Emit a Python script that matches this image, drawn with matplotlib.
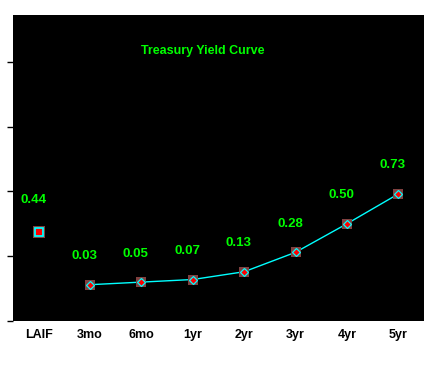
import matplotlib
matplotlib.use("Agg")
import matplotlib.pyplot as plt

categories = ["LAIF", "3mo", "6mo", "1yr", "2yr", "3yr", "4yr", "5yr"]
laif_value = 0.44
curve_labels = ["3mo", "6mo", "1yr", "2yr", "3yr", "4yr", "5yr"]
curve_values = [0.03, 0.05, 0.07, 0.13, 0.28, 0.50, 0.73]
title = "Treasury Yield Curve"

plt.rcParams['font.family'] = ['Liberation Sans', 'DejaVu Sans']

fig = plt.figure(figsize=(4.35, 3.78), dpi=100, facecolor='white')
ax = fig.add_axes([13/435, 1-321/378, 411/435, 306/378])
ax.set_facecolor('black')

xs = list(range(len(categories)))
cx = [categories.index(c) for c in curve_labels]

brown = '#80403f'
ax.plot(cx, curve_values, color='#00ffff', lw=1.0, zorder=2)
ax.plot(cx, curve_values, ls='none', marker='s', ms=7.5, mfc=brown, mec=brown, mew=0, zorder=3)
ax.plot(cx, curve_values, ls='none', marker='D', ms=4.2, mfc='#ff0000', mec='#00ffff', mew=0.9, zorder=4)

ax.plot([0], [laif_value], ls='none', marker='s', ms=8.6, mfc=brown, mec=brown, mew=0, zorder=3)
ax.plot([0], [laif_value], ls='none', marker='s', ms=6.2, mfc='#ff0000', mec='#00ffff', mew=1.3, zorder=4)

green = '#00ff00'
ax.annotate(f"{laif_value:.2f}", (0, laif_value), xytext=(-4, 23), textcoords='offset points',
            ha='center', va='center', color=green, fontsize=9.5, fontweight='bold')
for x, v in zip(cx, curve_values):
    ax.annotate(f"{v:.2f}", (x, v), xytext=(-4, 20.5), textcoords='offset points',
                ha='center', va='center', color=green, fontsize=9.5, fontweight='bold')

ax.text(0.462, 0.883, title, transform=ax.transAxes, ha='center', va='center',
        color=green, fontsize=9, fontweight='bold')

ax.set_xlim(-0.5, 7.5)
ax.set_ylim(-0.25, 2.11)
ax.set_xticks(xs)
ax.set_xticklabels(categories, fontsize=9, fontweight='bold', color='black')
ax.tick_params(axis='x', length=0, pad=6)
ax.set_yticks([-0.25, 0.25, 0.75, 1.25, 1.75])
ax.set_yticklabels([])
ax.tick_params(axis='y', length=4, width=1, color='black')
for s in ax.spines.values():
    s.set_visible(False)

fig.savefig("out.png", dpi=100, facecolor='white')
